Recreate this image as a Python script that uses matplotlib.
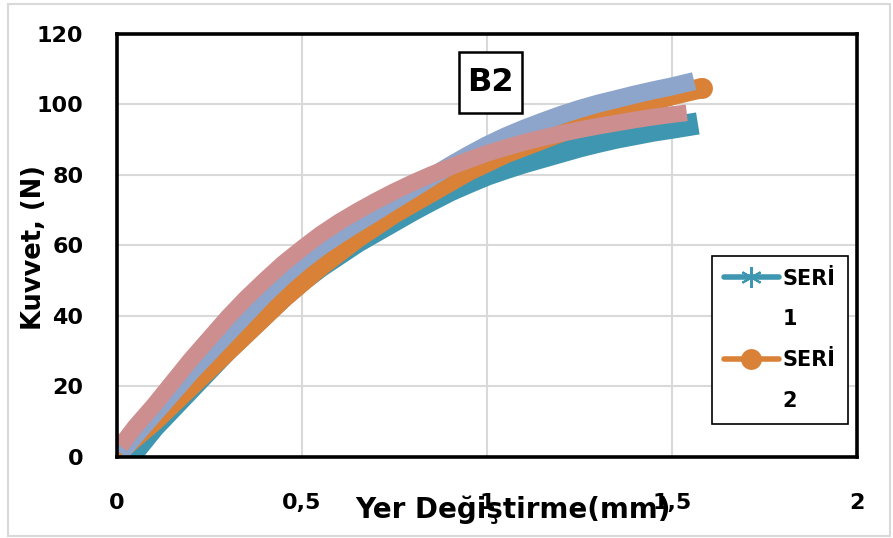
import matplotlib
matplotlib.use("Agg")
import matplotlib.pyplot as plt
from matplotlib.lines import Line2D
from matplotlib.patches import Rectangle

# ---- data ----
seri1_x = [0.03, 0.05, 0.1, 0.15, 0.2, 0.25, 0.3, 0.35, 0.4, 0.45, 0.5, 0.55, 0.6, 0.65, 0.7, 0.75,
           0.8, 0.85, 0.9, 0.95, 1.0, 1.05, 1.1, 1.15, 1.2, 1.25, 1.3, 1.35, 1.4, 1.45, 1.5, 1.57]
seri1_y = [0, 2, 8.5, 14, 19.5, 25, 30.5, 35.5, 40.5, 45.5, 50, 54, 57.5, 61, 64, 67,
           70, 72.8, 75.5, 77.8, 80, 81.8, 83.5, 85, 86.5, 88, 89.3, 90.5, 91.5, 92.5, 93.3, 94.5]

seri2_x = [0.0, 0.05, 0.1, 0.15, 0.2, 0.25, 0.3, 0.35, 0.4, 0.45, 0.5, 0.55, 0.6, 0.65, 0.7, 0.75,
           0.8, 0.85, 0.9, 0.95, 1.0, 1.05, 1.1, 1.15, 1.2, 1.25, 1.3, 1.35, 1.4, 1.45, 1.5, 1.58]
seri2_y = [1, 5.5, 10, 15, 20, 25, 30, 35, 40, 45, 49.5, 54, 58, 62, 65.5, 69,
           72, 75, 78, 81, 83.5, 86, 88, 90, 92, 94, 96, 97.8, 99.5, 101, 102.5, 104.5]

seri3_x = [0.01, 0.05, 0.1, 0.15, 0.2, 0.25, 0.3, 0.35, 0.4, 0.45, 0.5, 0.55, 0.6, 0.65, 0.7, 0.75,
           0.8, 0.85, 0.9, 0.95, 1.0, 1.05, 1.1, 1.15, 1.2, 1.25, 1.3, 1.35, 1.4, 1.45, 1.5, 1.56]
seri3_y = [1, 6, 12, 18, 24, 29.5, 35, 40.5, 46, 51, 55.5, 59.5, 63, 66.3, 69.5, 72.8,
           76, 79.3, 82.5, 85.5, 88.3, 90.8, 93, 95, 96.9, 98.6, 100.1, 101.4, 102.7, 103.9, 105, 106.5]

seri4_x = [0.01, 0.05, 0.1, 0.15, 0.2, 0.25, 0.3, 0.35, 0.4, 0.45, 0.5, 0.55, 0.6, 0.65, 0.7, 0.75,
           0.8, 0.85, 0.9, 0.95, 1.0, 1.05, 1.1, 1.15, 1.2, 1.25, 1.3, 1.35, 1.4, 1.45, 1.5, 1.54]
seri4_y = [3, 8.5, 14.5, 21, 27.5, 33.5, 39.5, 45, 50, 54.8, 59, 63, 66.5, 69.6, 72.5, 75.2,
           77.7, 80, 82.1, 84.1, 86, 87.6, 89.1, 90.4, 91.6, 92.7, 93.7, 94.6, 95.5, 96.3, 97, 97.5]

legend_labels = ["SERİ", "1", "SERİ", "2"]
x_ticks = [0, 0.5, 1, 1.5, 2]
x_tick_labels = ["0", "0,5", "1", "1,5", "2"]
y_ticks = [0, 20, 40, 60, 80, 100, 120]
x_label = "Yer Değiştirme(mm)"
y_label = "Kuvvet, (N)"
panel_label = "B2"

C1 = "#3E96B0"
C2 = "#DA8138"
C3 = "#8EA5CB"
C4 = "#CC8E8E"

plt.rcParams['font.family'] = ['DejaVu Sans']
plt.rcParams['font.weight'] = 'bold'

W, H = 893, 538
fig = plt.figure(figsize=(W / 100, H / 100), dpi=100)
fig.patch.set_facecolor("white")

# outer light border
fig.patches.append(Rectangle((8 / W, 2 / H), 882 / W, 532 / H, transform=fig.transFigure,
                             fill=False, edgecolor="#D9D9D9", lw=1.5))

L, R, T, B = 116.7, 857, 33.5, 456.7
ax = fig.add_axes([L / W, 1 - B / H, (R - L) / W, (B - T) / H])

ax.plot(seri1_x, seri1_y, color=C1, lw=16, solid_capstyle="butt", solid_joinstyle="round", zorder=3)
ax.plot(seri2_x, seri2_y, color=C2, lw=14.5, solid_capstyle="round", solid_joinstyle="round", zorder=4,
        marker="o", markevery=[0, len(seri2_x) - 1], markersize=15, markeredgewidth=0)
ax.plot(seri3_x, seri3_y, color=C3, lw=13, solid_capstyle="butt", solid_joinstyle="round", zorder=5)
ax.plot(seri4_x, seri4_y, color=C4, lw=12, solid_capstyle="butt", solid_joinstyle="round", zorder=6)

ax.set_xlim(0, 2)
ax.set_ylim(0, 120)
ax.set_xticks(x_ticks)
ax.set_xticklabels(x_tick_labels)
ax.set_yticks(y_ticks)
ax.grid(True, color="#D9D9D9", lw=1.5, zorder=0)
ax.set_axisbelow(True)
ax.tick_params(length=0, labelsize=16, pad=0)
ax.tick_params(axis="x", pad=26)
ax.tick_params(axis="y", pad=24)
for lab in ax.get_xticklabels() + ax.get_yticklabels():
    lab.set_fontweight("bold")
for s in ax.spines.values():
    s.set_color("black")
    s.set_linewidth(2.6)
    s.set_zorder(10)

# panel label box
ax.add_patch(Rectangle((0.926, 97.4), 0.168, 17.3, fill=True, facecolor="white",
                       edgecolor="black", lw=1.8, zorder=8))
ax.text(1.01, 106.0, panel_label, ha="center", va="center", fontsize=23, fontweight="bold", zorder=9)

# axis labels
fig.text(512.5 / W, 1 - 510 / H, x_label, ha="center", va="center", fontsize=20, fontweight="bold")
fig.text(34 / W, 1 - 247 / H, y_label, ha="center", va="center", rotation=90, fontsize=18.5,
         fontweight="bold")

# legend
h1 = Line2D([], [], color=C1, lw=4, marker=(6, 2, 0), markersize=15, markeredgewidth=1.5,
            solid_capstyle="round")
h2 = Line2D([], [], color=C2, lw=4, marker="o", markersize=15, markeredgewidth=0,
            solid_capstyle="round")
blank = Line2D([], [], color="none", lw=0)
leg = ax.legend([h1, blank, h2, blank], legend_labels, loc="upper left",
                bbox_to_anchor=(0.804, 0.474), borderaxespad=0,
                prop={"weight": "bold", "size": 15}, handlelength=2.6, handletextpad=0.2,
                labelspacing=1.0, borderpad=0.6, frameon=True, fancybox=False,
                edgecolor="black", framealpha=1)
leg.get_frame().set_linewidth(1.2)
leg.set_zorder(12)

fig.savefig("out.png", dpi=100, facecolor="white")
